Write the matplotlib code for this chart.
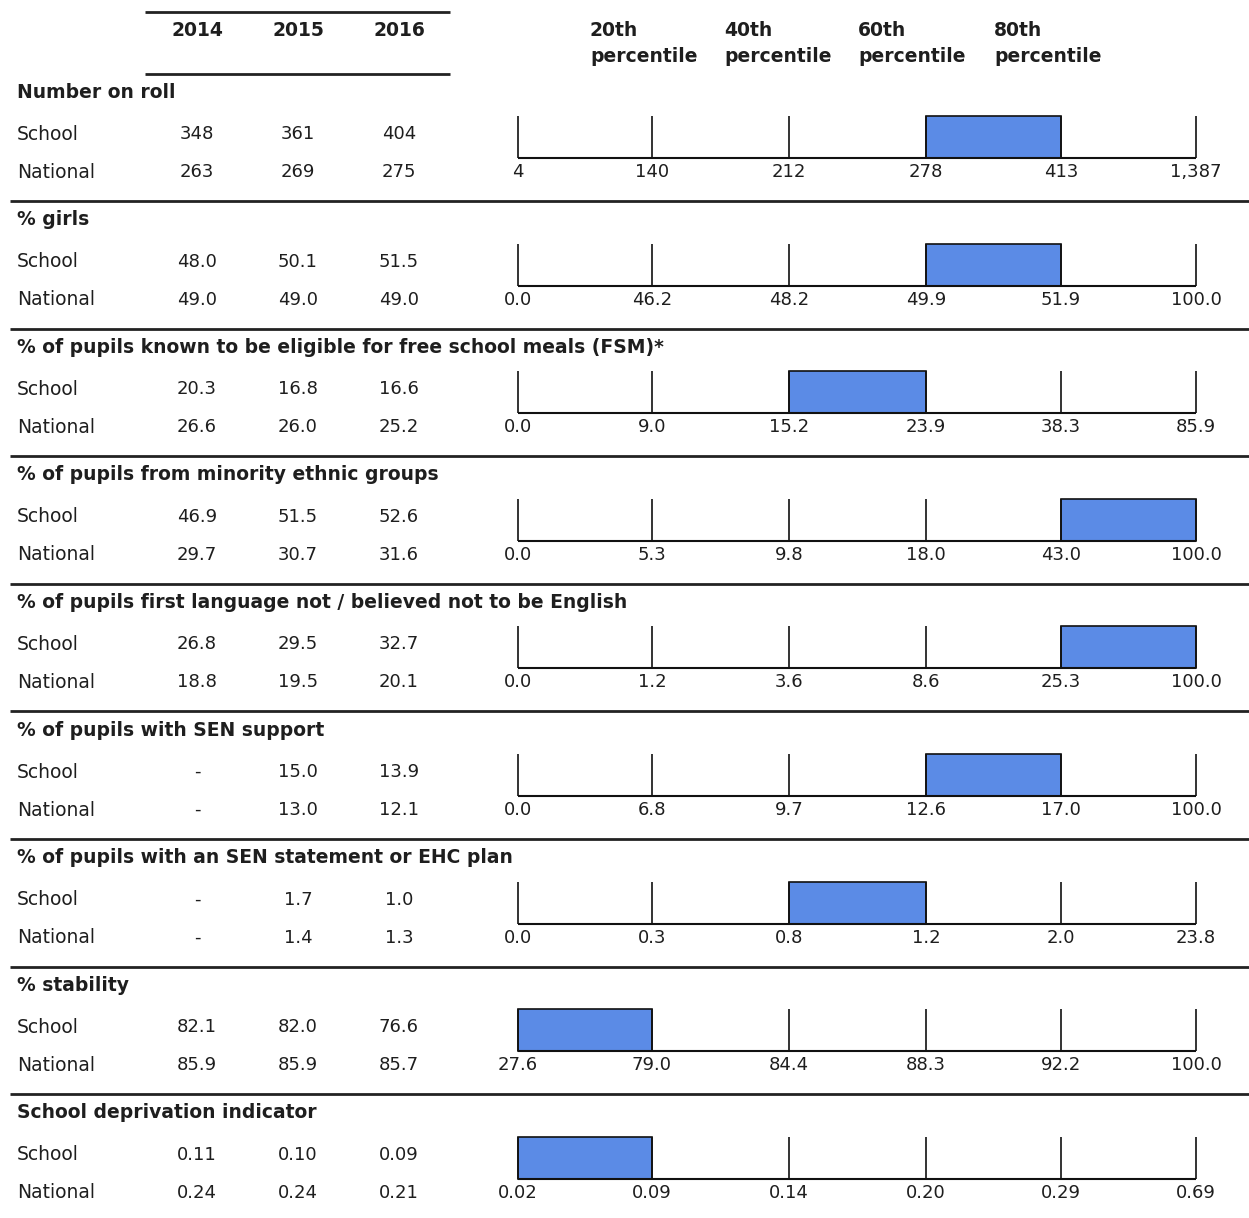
import matplotlib
matplotlib.use("Agg")
import matplotlib.pyplot as plt

plt.rcParams['font.family'] = ['DejaVu Sans']

years = ["2014", "2015", "2016"]
pct_headers = ["20th", "40th", "60th", "80th"]

titles = [
    "Number on roll",
    "% girls",
    "% of pupils known to be eligible for free school meals (FSM)*",
    "% of pupils from minority ethnic groups",
    "% of pupils first language not / believed not to be English",
    "% of pupils with SEN support",
    "% of pupils with an SEN statement or EHC plan",
    "% stability",
    "School deprivation indicator",
]

school = [
    ["348", "361", "404"],
    ["48.0", "50.1", "51.5"],
    ["20.3", "16.8", "16.6"],
    ["46.9", "51.5", "52.6"],
    ["26.8", "29.5", "32.7"],
    ["-", "15.0", "13.9"],
    ["-", "1.7", "1.0"],
    ["82.1", "82.0", "76.6"],
    ["0.11", "0.10", "0.09"],
]

national = [
    ["263", "269", "275"],
    ["49.0", "49.0", "49.0"],
    ["26.6", "26.0", "25.2"],
    ["29.7", "30.7", "31.6"],
    ["18.8", "19.5", "20.1"],
    ["-", "13.0", "12.1"],
    ["-", "1.4", "1.3"],
    ["85.9", "85.9", "85.7"],
    ["0.24", "0.24", "0.21"],
]

# min, 20th, 40th, 60th, 80th, max
percentiles = [
    ["4", "140", "212", "278", "413", "1,387"],
    ["0.0", "46.2", "48.2", "49.9", "51.9", "100.0"],
    ["0.0", "9.0", "15.2", "23.9", "38.3", "85.9"],
    ["0.0", "5.3", "9.8", "18.0", "43.0", "100.0"],
    ["0.0", "1.2", "3.6", "8.6", "25.3", "100.0"],
    ["0.0", "6.8", "9.7", "12.6", "17.0", "100.0"],
    ["0.0", "0.3", "0.8", "1.2", "2.0", "23.8"],
    ["27.6", "79.0", "84.4", "88.3", "92.2", "100.0"],
    ["0.02", "0.09", "0.14", "0.20", "0.29", "0.69"],
]

# quintile band (0-4) the school's 2016 value falls in
school_band = [3, 3, 2, 4, 4, 3, 2, 0, 0]

W, H = 1249, 1218
fig = plt.figure(figsize=(W / 100, H / 100), dpi=100)
ax = fig.add_axes([0, 0, 1, 1])
ax.set_xlim(0, W)
ax.set_ylim(H, 0)
ax.axis("off")

fs = 13.5   # labels
fn = 13     # numbers
col_x = [197, 298, 399]
tick_x = [518, 652, 789, 926, 1061, 1196]
hdr_x = [590, 724, 858, 994]
bar_color = "#5b8be6"
txt = "#1e1e1e"

# header
ax.hlines([12, 74], 145, 450, color="#222222", lw=2)
for x, y in zip(col_x, years):
    ax.text(x, 31, y, ha="center", va="center", fontsize=fs, fontweight="bold", color=txt)
for x, h in zip(hdr_x, pct_headers):
    ax.text(x, 31, h, ha="left", va="center", fontsize=fs, fontweight="bold", color=txt)
    ax.text(x, 57, "percentile", ha="left", va="center", fontsize=fs, fontweight="bold", color=txt)

step = 127.6
for i, t in enumerate(titles):
    y0 = 92 + step * i
    ax.text(17, y0, t, ha="left", va="center", fontsize=fs, fontweight="bold", color=txt)
    ax.text(17, y0 + 42, "School", ha="left", va="center", fontsize=fs, color=txt)
    ax.text(17, y0 + 80, "National", ha="left", va="center", fontsize=fs, color=txt)
    for j, x in enumerate(col_x):
        ax.text(x, y0 + 42, school[i][j], ha="center", va="center", fontsize=fn, color=txt)
        ax.text(x, y0 + 80, national[i][j], ha="center", va="center", fontsize=fn, color=txt)

    base = y0 + 66
    top = y0 + 24
    b = school_band[i]
    ax.bar(tick_x[b], base - top, width=tick_x[b + 1] - tick_x[b], bottom=top,
           align="edge", color=bar_color, edgecolor="#111111", lw=1.2, zorder=2)
    ax.hlines(base, tick_x[0], tick_x[-1], color="#111111", lw=1.5, zorder=3)
    ax.vlines(tick_x, top, base, color="#111111", lw=1.2, zorder=3)
    for x, lab in zip(tick_x, percentiles[i]):
        ax.text(x, y0 + 80, lab, ha="center", va="center", fontsize=fn, color=txt)

    if i < len(titles) - 1:
        ax.hlines(y0 + 109, 10, W, color="#222222", lw=2)

fig.savefig("out.png", dpi=100)
